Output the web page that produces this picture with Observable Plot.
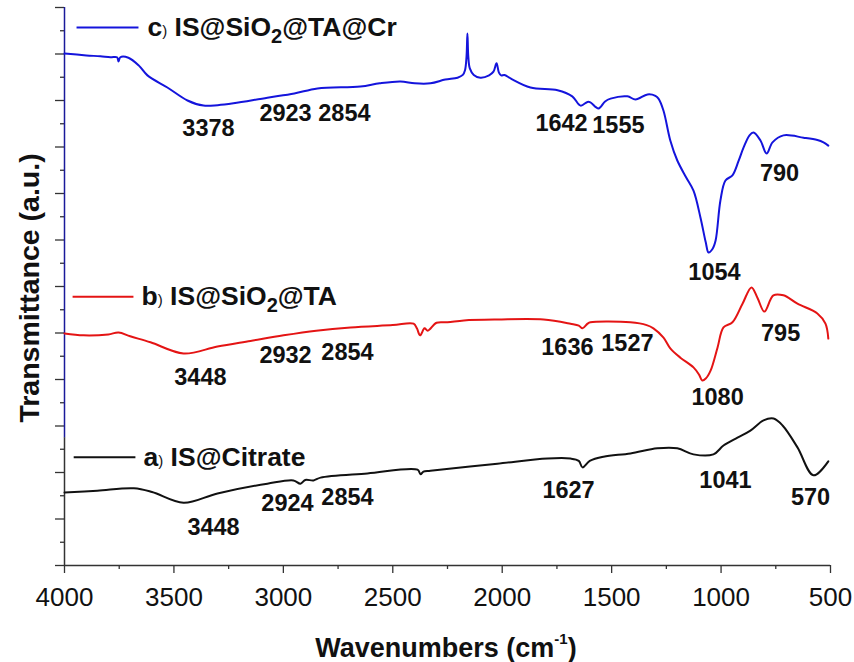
<!DOCTYPE html>
<html>
<head>
<meta charset="utf-8">
<script src="https://cdn.jsdelivr.net/npm/d3@7"></script>
<script src="https://cdn.jsdelivr.net/npm/@observablehq/plot@0.6"></script>
<style>
  html, body { margin: 0; padding: 0; background: #fff; }
  #chart { width: 854px; height: 662px; }
  svg { font-family: "Liberation Sans", Arial, sans-serif; }
</style>
</head>
<body>
<div id="chart"></div>
<script>
// ---- Data ----
// c) IS@SiO2@TA@Cr (blue)
const wavenumbersC = [4000,3900,3836,3790,3760,3753,3745,3708,3660,3621,3530,3438,3365,3300,3228,3073,2950,2844,2648,2560,2465,2400,2328,2260,2204,2180,2170,2163,2159,2155,2148,2130,2100,2060,2040,2026,2015,2005,1990,1960,1871,1747,1680,1642,1610,1597,1560,1530,1505,1428,1391,1336,1300,1286,1263,1232,1200,1160,1126,1094,1070,1057,1040,1025,1003,980,948,920,897,870,852,820,792,765,715,623,560,532,510];
const transC =      [11.01,10.97,10.95,10.93,10.93,10.84,10.93,10.92,10.75,10.54,10.28,10.00,9.89,9.90,9.94,10.06,10.15,10.26,10.30,10.37,10.41,10.37,10.37,10.45,10.49,10.55,10.65,10.95,11.44,10.95,10.69,10.55,10.49,10.54,10.62,10.80,10.60,10.54,10.55,10.47,10.28,10.22,10.09,9.89,9.97,9.96,9.83,9.98,10.04,10.09,10.02,10.13,10.10,10.04,9.78,9.14,8.71,8.35,8.06,7.48,6.95,6.73,6.80,6.99,7.85,8.28,8.39,8.70,8.99,9.25,9.31,9.14,8.86,9.10,9.25,9.20,9.15,9.10,9.03];

// b) IS@SiO2@TA (red)
const wavenumbersB = [4000,3913,3800,3753,3700,3607,3456,3301,3150,2999,2850,2693,2500,2405,2390,2375,2355,2340,2300,2250,2175,2022,1811,1688,1650,1633,1610,1597,1414,1340,1309,1263,1232,1186,1126,1100,1086,1070,1048,1016,989,948,902,861,834,802,761,715,651,560,523,510];
const transB =      [4.99,4.95,4.97,5.01,4.93,4.80,4.56,4.71,4.83,4.95,5.05,5.12,5.17,5.20,5.10,4.95,5.10,5.05,5.22,5.23,5.27,5.29,5.29,5.20,5.16,5.10,5.20,5.23,5.23,5.17,5.10,4.90,4.67,4.47,4.26,4.10,3.98,4.02,4.19,4.69,5.12,5.23,5.63,5.98,5.76,5.46,5.81,5.81,5.63,5.42,5.20,4.88];

// a) IS@Citrate (black)
const wavenumbersA = [4000,3850,3683,3600,3456,3301,3073,2954,2922,2900,2862,2830,2616,2387,2373,2360,2328,2022,1793,1688,1650,1633,1600,1537,1414,1291,1200,1126,1035,989,925,866,806,760,719,651,578,510];
const transA =      [1.57,1.61,1.66,1.58,1.35,1.55,1.76,1.83,1.76,1.84,1.83,1.89,1.98,2.06,1.96,2.02,2.04,2.19,2.30,2.30,2.25,2.11,2.25,2.34,2.41,2.52,2.52,2.39,2.39,2.58,2.75,2.90,3.12,3.16,3.01,2.54,1.94,2.24];

// Peak annotations (label, wavenumber, transmittance)
const peaksC = [
  {label: "3378", w: 3342, t: 9.40},
  {label: "2923", w: 2990, t: 9.72},
  {label: "2854", w: 2721, t: 9.72},
  {label: "1642", w: 1729, t: 9.51},
  {label: "1555", w: 1469, t: 9.46},
  {label: "1054", w: 1030, t: 6.30},
  {label: "790",  w: 733,  t: 8.43}
];
const peaksB = [
  {label: "3448", w: 3379, t: 4.04},
  {label: "2932", w: 2990, t: 4.52},
  {label: "2854", w: 2707, t: 4.58},
  {label: "1636", w: 1702, t: 4.69},
  {label: "1527", w: 1428, t: 4.77},
  {label: "1080", w: 1016, t: 3.61},
  {label: "795",  w: 728,  t: 4.99}
];
const peaksA = [
  {label: "3448", w: 3319, t: 0.82},
  {label: "2924", w: 2981, t: 1.33},
  {label: "2854", w: 2707, t: 1.46},
  {label: "1627", w: 1697, t: 1.61},
  {label: "1041", w: 980,  t: 1.83},
  {label: "570",  w: 591,  t: 1.46}
];

const seriesNames = ["c) IS@SiO2@TA@Cr", "b) IS@SiO2@TA", "a) IS@Citrate"];
const seriesColors = ["#1414dc", "#e41414", "#111111"];

const xMajorTicks = [4000, 3500, 3000, 2500, 2000, 1500, 1000, 500];
const xMinorTicks = [3750, 3250, 2750, 2250, 1750, 1250, 750];
const yMajorTicks = [0,1,2,3,4,5,6,7,8,9,10,11,12];
const yMinorTicks = [0.5,1.5,2.5,3.5,4.5,5.5,6.5,7.5,8.5,9.5,10.5,11.5];

// ---- Build tables ----
const toRows = (ws, ts, s) => ws.map((w, i) => ({w, t: ts[i], s}));
const lineC = toRows(wavenumbersC, transC, seriesNames[0]);
const lineB = toRows(wavenumbersB, transB, seriesNames[1]);
const lineA = toRows(wavenumbersA, transA, seriesNames[2]);

// legend entries: line span and anchor in data space
const legend = [
  {s: seriesNames[0], x1: 3945, x2: 3662, xt: 3621, t: 11.57, color: seriesColors[0]},
  {s: seriesNames[1], x1: 3963, x2: 3685, xt: 3648, t: 5.78,  color: seriesColors[1]},
  {s: seriesNames[2], x1: 3958, x2: 3676, xt: 3639, t: 2.33,  color: seriesColors[2]}
];

const peakText = (data) => Plot.text(data, {
  x: "w", y: "t", text: "label",
  fontSize: 23.5, fontWeight: "bold", fill: "#111", textAnchor: "middle", lineAnchor: "middle"
});

const plot = Plot.plot({
  width: 854,
  height: 662,
  marginLeft: 64,
  marginRight: 24,
  marginTop: 7,
  marginBottom: 97,
  style: {fontFamily: "Liberation Sans, Arial, sans-serif", background: "#fff", overflow: "visible"},
  x: {domain: [4000, 500], label: null},
  y: {domain: [0, 12], label: null},
  marks: [
    Plot.axisX({ticks: xMajorTicks, tickSize: 8, tickPadding: 14, fontSize: 26, tickFormat: d => String(d), stroke: "#333", strokeWidth: 1.3, label: null, fill: "#111"}),
    Plot.axisX({ticks: xMinorTicks, tickSize: 4, tickFormat: () => "", stroke: "#333", strokeWidth: 1.3, label: null}),
    Plot.axisY({ticks: yMajorTicks, tickSize: 9, tickFormat: () => "", stroke: "#333", strokeWidth: 1.3, label: null}),
    Plot.axisY({ticks: yMinorTicks, tickSize: 4, tickFormat: () => "", stroke: "#333", strokeWidth: 1.3, label: null}),
    Plot.ruleY([0], {stroke: "#333", strokeWidth: 1.5}),
    Plot.ruleX([4000], {y1: 0, y2: 2.75, stroke: "#333", strokeWidth: 1.5}),
    Plot.ruleX([4000], {y1: 2.75, y2: 12, stroke: "#1a1a9a", strokeWidth: 1.5}),
    Plot.line(lineA, {x: "w", y: "t", stroke: seriesColors[2], strokeWidth: 2, curve: "catmull-rom"}),
    Plot.line(lineB, {x: "w", y: "t", stroke: seriesColors[1], strokeWidth: 2, curve: "catmull-rom"}),
    Plot.line(lineC, {x: "w", y: "t", stroke: seriesColors[0], strokeWidth: 2, curve: "catmull-rom"}),
    peakText(peaksC),
    peakText(peaksB),
    peakText(peaksA),
    Plot.link(legend, {x1: "x1", x2: "x2", y1: "t", y2: "t", stroke: "color", strokeWidth: 2}),
    Plot.text(legend, {x: "xt", y: "t", text: "s", textAnchor: "start", lineAnchor: "middle", fontSize: 26.5, fontWeight: "bold", fill: "#111"})
  ]
});

document.getElementById("chart").appendChild(plot);

// Rich text for legend labels: small ")" and subscript "2"
const svg = d3.select(plot);
svg.selectAll("text").each(function() {
  const txt = this.textContent;
  if (!seriesNames.includes(txt)) return;
  const letter = txt[0];
  const rest = txt.slice(3);
  const el = d3.select(this);
  el.text(null);
  el.append("tspan").text(letter);
  el.append("tspan").attr("font-size", 15).attr("font-weight", "normal").text(")");
  const parts = rest.split("SiO2");
  el.append("tspan").text(" " + parts[0]);
  if (parts.length > 1) {
    el.append("tspan").text("SiO");
    el.append("tspan").attr("font-size", 20).attr("dy", 7).text("2");
    el.append("tspan").attr("dy", -7).text(parts[1]);
  }
});

// Axis titles
svg.append("text")
  .attr("x", 446).attr("y", 657)
  .attr("text-anchor", "middle")
  .attr("font-size", 27).attr("font-weight", "bold").attr("fill", "#111")
  .call(t => {
    t.append("tspan").text("Wavenumbers (cm");
    t.append("tspan").attr("font-size", 15).attr("dy", -13).text("-1");
    t.append("tspan").attr("dy", 13).text(")");
  });

svg.append("text")
  .attr("transform", "translate(39,288) rotate(-90)")
  .attr("text-anchor", "middle")
  .attr("font-size", 28.5).attr("font-weight", "bold").attr("fill", "#111")
  .text("Transmittance (a.u.)");
</script>
</body>
</html>
